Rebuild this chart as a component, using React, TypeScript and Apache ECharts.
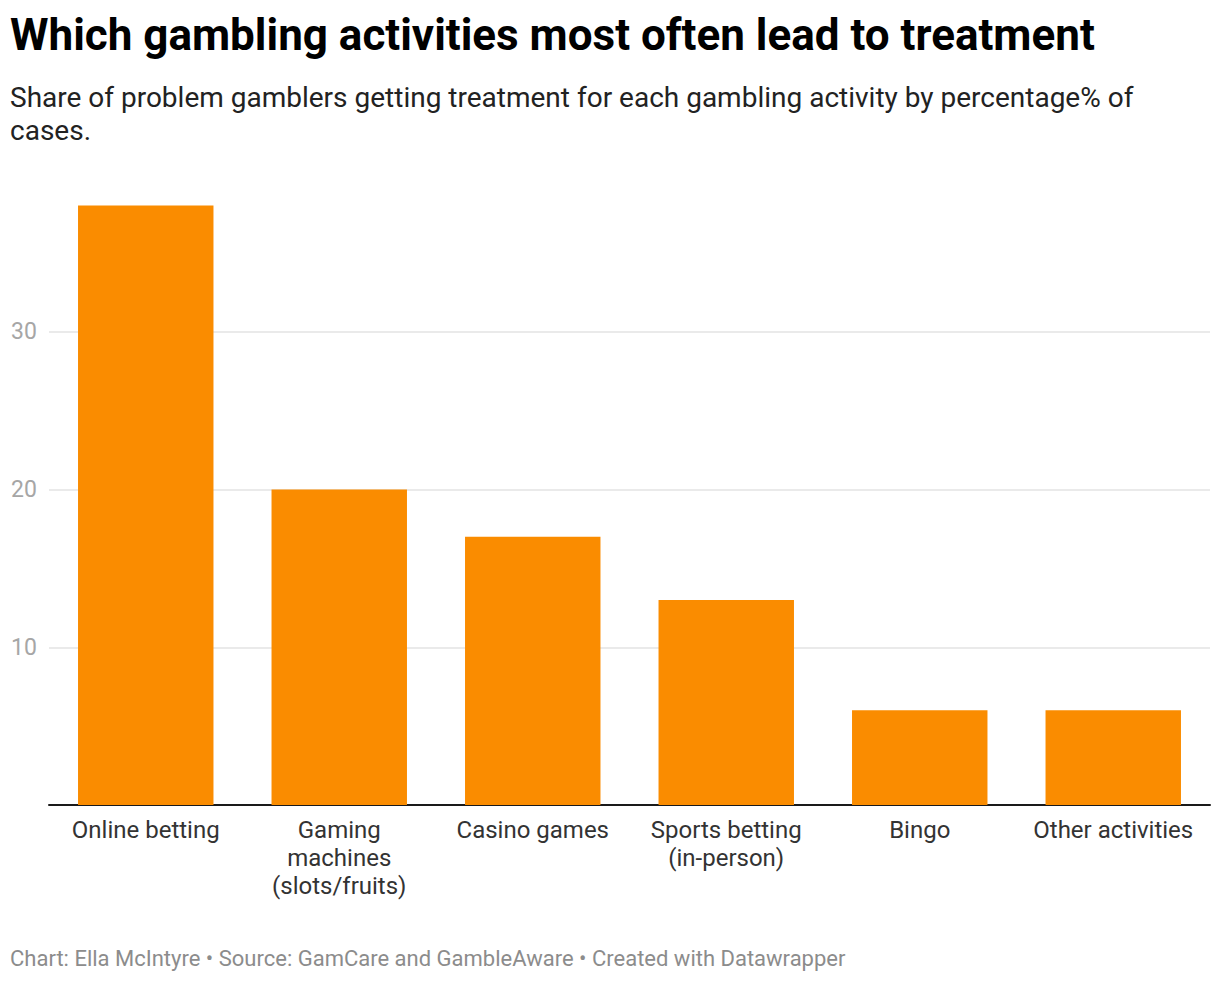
import React, { useEffect, useRef } from "react";
import * as echarts from "echarts";

const categories = [
  "Online betting",
  "Gaming\nmachines\n(slots/fruits)",
  "Casino games",
  "Sports betting\n(in-person)",
  "Bingo",
  "Other activities",
];
const values = [38, 20, 17, 13, 6, 6];

const titleText = "Which gambling activities most often lead to treatment";
const subtitleText =
  "Share of problem gamblers getting treatment for each gambling activity by percentage% of\ncases.";
const footerText =
  "Chart: Ella McIntyre • Source: GamCare and GambleAware • Created with Datawrapper";

export default function App() {
  const ref = useRef<HTMLDivElement>(null);
  useEffect(() => {
    if (!ref.current) return;
    const chart = echarts.init(ref.current, undefined, { renderer: "svg" });
    chart.setOption({
      animation: false,
      backgroundColor: "#ffffff",
      textStyle: { fontFamily: "Roboto" },
      graphic: [
        {
          type: "text",
          left: 10,
          top: 13,
          style: {
            text: titleText,
            fontFamily: "Roboto",
            fontWeight: "bold",
            fontSize: 44,
            fill: "#000000",
          },
        },
        {
          type: "text",
          left: 10,
          top: 81,
          style: {
            text: subtitleText,
            fontFamily: "Roboto",
            fontSize: 28,
            lineHeight: 33,
            fill: "#222222",
          },
        },
        {
          type: "text",
          left: 10,
          top: 947,
          style: {
            text: footerText,
            fontFamily: "Roboto",
            fontSize: 22,
            fill: "#8c8c8c",
          },
        },
      ],
      grid: { left: 49, right: 10, top: 174, bottom: 177, containLabel: false },
      xAxis: {
        type: "category",
        data: categories,
        axisLine: { show: true, lineStyle: { color: "#1a1a1a", width: 2 } },
        axisTick: { show: false },
        axisLabel: {
          interval: 0,
          margin: 11,
          fontFamily: "Roboto",
          fontSize: 24,
          lineHeight: 28,
          color: "#333333",
          align: "center",
          verticalAlign: "top",
        },
      },
      yAxis: {
        type: "value",
        min: 0,
        max: 40,
        interval: 10,
        axisLine: { show: false },
        axisTick: { show: false },
        splitLine: {
          show: true,
          showMinLine: false,
          showMaxLine: false,
          lineStyle: { color: "#e3e3e3", width: 1.5 },
        },
        axisLabel: {
          margin: 38,
          align: "left",
          fontFamily: "Roboto",
          fontSize: 23,
          color: "#a6a6a6",
          formatter: (v: number) => (v === 0 || v === 40 ? "" : String(v)),
        },
      },
      series: [
        {
          type: "bar",
          data: values,
          barCategoryGap: "30%",
          itemStyle: { color: "#fa8c00" },
        },
      ],
    });
    return () => chart.dispose();
  }, []);
  return (
    <div
      ref={ref}
      style={{ position: "absolute", left: 0, top: 0, width: 1220, height: 982 }}
    />
  );
}
